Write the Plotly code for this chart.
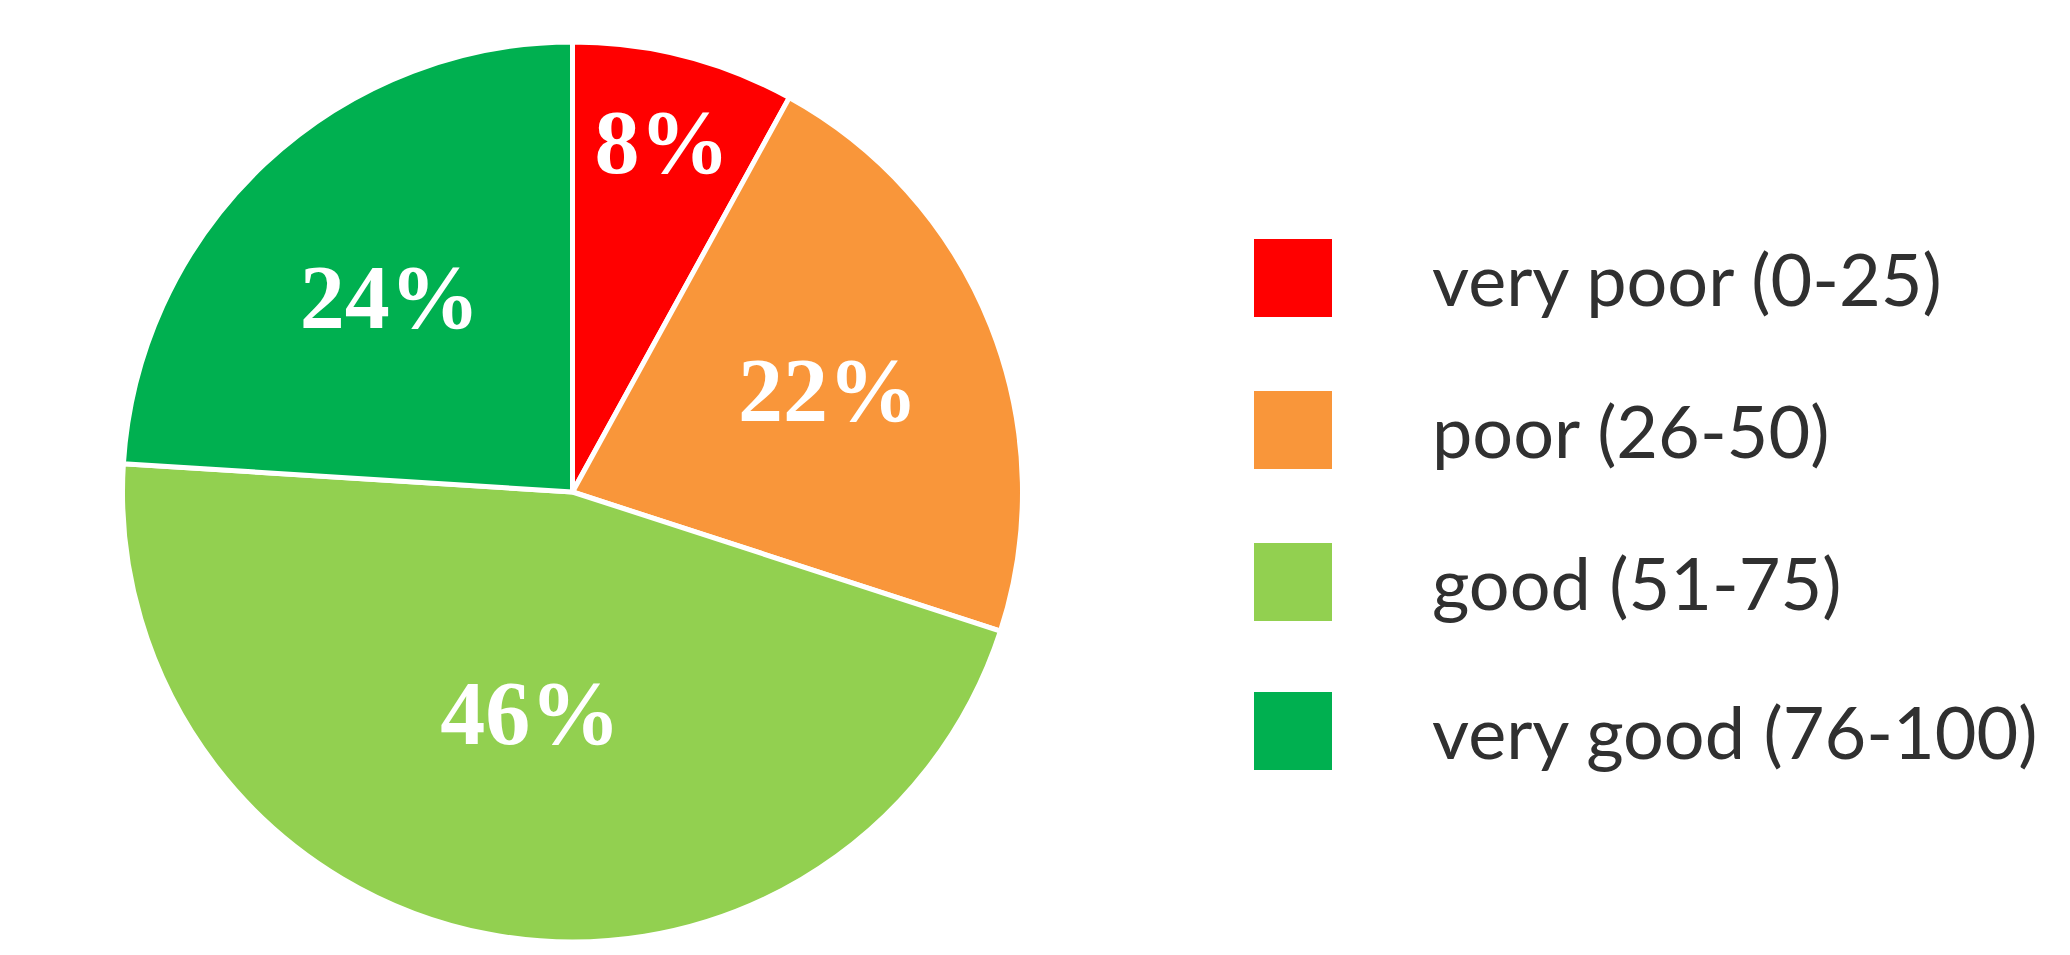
import plotly.graph_objects as go

categories = ["very poor (0-25)", "poor (26-50)", "good (51-75)", "very good (76-100)"]
values = [8, 22, 46, 24]
colors = ["#FF0000", "#F9963A", "#92D050", "#00B050"]

W, H = 2070, 955

fig = go.Figure()
fig.add_trace(go.Pie(
    labels=categories,
    values=values,
    sort=False,
    direction="clockwise",
    rotation=0,
    marker=dict(colors=colors, line=dict(color="white", width=5)),
    texttemplate="%{value}%",
    textposition="inside",
    insidetextorientation="horizontal",
    textfont=dict(family="Liberation Serif", size=90, color="white", weight="bold"),
    domain=dict(x=[114 / W, 1015 / W], y=[1 - 934 / H, 1 - 34 / H]),
    showlegend=False,
    hoverinfo="label+percent",
))

# custom legend (large squares like the reference)
sq = 78
x0 = 1246
y_centers = [270, 422, 574, 723]
for cat, col, yc in zip(categories, colors, y_centers):
    fig.add_shape(type="rect", xref="paper", yref="paper",
                  x0=x0 / W, x1=(x0 + sq) / W,
                  y0=1 - (yc + sq / 2) / H, y1=1 - (yc - sq / 2) / H,
                  fillcolor=col, line=dict(width=0))
    fig.add_annotation(xref="paper", yref="paper", x=1422 / W, y=1 - yc / H,
                       text=cat, showarrow=False, xanchor="left", yanchor="middle",
                       font=dict(family="Lato", size=72, color="#303030"))

fig.update_layout(
    width=W, height=H,
    margin=dict(l=0, r=0, t=0, b=0),
    paper_bgcolor="white",
    plot_bgcolor="white",
)

fig.write_html("out.html")
